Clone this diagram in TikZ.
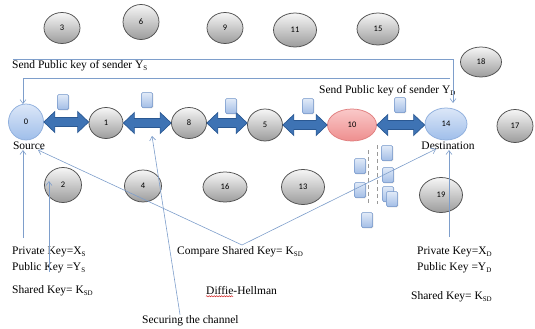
\documentclass[tikz,border=0pt]{standalone}
\usepackage{fontspec}
\setmainfont{Liberation Serif}
\newfontfamily\lblfont{Carlito}
\usetikzlibrary{arrows.meta,shapes.geometric,shadows,decorations.pathmorphing,calc}

\definecolor{grayTop}{HTML}{F6F6F6}
\definecolor{grayBot}{HTML}{9C9C9C}
\definecolor{grayEdge}{HTML}{505050}
\definecolor{blueTop}{HTML}{DCE7F8}
\definecolor{blueBot}{HTML}{9FBEEA}
\definecolor{blueEdge}{HTML}{8FAFDD}
\definecolor{pinkTop}{HTML}{FAC9C9}
\definecolor{pinkBot}{HTML}{EE8E8E}
\definecolor{pinkEdge}{HTML}{E07E7E}
\definecolor{arrFill}{HTML}{3E73B4}
\definecolor{arrEdge}{HTML}{2A5892}
\definecolor{pkTop}{HTML}{E1EAF8}
\definecolor{pkBot}{HTML}{A3BEE6}
\definecolor{pkEdge}{HTML}{6E92C8}
\definecolor{connClr}{HTML}{7E9ECB}

% lowered small subscript in the text font
\newcommand{\sbs}[1]{\raisebox{-0.3ex}{\fontsize{7}{8}\selectfont #1}}

% thick two-headed block arrow between two chain nodes
\newcommand{\blockarrow}[2]{%
  \filldraw[fill=arrFill, draw=arrEdge, line width=0.7pt, line join=miter]
    let \p1=(#1.east), \p2=(#2.west) in
    (\x1,\y1) -- (\x1+11pt,\y1+10.5pt) -- (\x1+11pt,\y1+4.5pt)
    -- (\x2-11pt,\y1+4.5pt) -- (\x2-11pt,\y1+10.5pt) -- (\x2,\y1)
    -- (\x2-11pt,\y1-10.5pt) -- (\x2-11pt,\y1-4.5pt)
    -- (\x1+11pt,\y1-4.5pt) -- (\x1+11pt,\y1-10.5pt) -- cycle;}

\begin{document}
\begin{tikzpicture}[x=1pt,y=-1pt,
  base/.style={ellipse, inner sep=0pt, line width=0.75pt,
    font=\lblfont\fontsize{8.5}{9}\selectfont},
  gnode/.style={base, draw=grayEdge, top color=grayTop, bottom color=grayBot},
  bnode/.style={base, draw=blueEdge, top color=blueTop, bottom color=blueBot},
  pnode/.style={base, draw=pinkEdge, top color=pinkTop, bottom color=pinkBot},
  sz/.style 2 args={minimum width=#1pt, minimum height=#2pt},
  packet/.style={rectangle, rounded corners=1.2pt, draw=pkEdge, line width=0.5pt,
    top color=pkTop, bottom color=pkBot, minimum width=11pt, minimum height=15pt,
    inner sep=0pt, drop shadow={shadow xshift=0.8pt, shadow yshift=-0.8pt, opacity=0.25}},
  txt/.style={inner sep=0pt, font=\fontsize{11.5}{13}\selectfont},
  conn/.style={draw=connClr, line width=0.6pt},
  tip/.style={-{Straight Barb[length=4pt,width=6pt]}},
  gapline/.style={draw=black!40, line width=0.6pt, dash pattern=on 4pt off 3pt}
]
\useasboundingbox (0,0) rectangle (535,329);

% scattered nodes, top row
\node[gnode, sz={36}{31}] (n3)  at (62,28)  {3};
\node[gnode, sz={36}{35}] (n6)  at (141,22) {6};
\node[gnode, sz={36}{31}] (n9)  at (225,28) {9};
\node[gnode, sz={43}{34}] (n11) at (295,30) {11};
\node[gnode, sz={42}{32}] (n15) at (378,29) {15};
\node[gnode, sz={41}{30}] (n18) at (481,62) {18};

% the chain from source to destination
\node[bnode, sz={35}{36}] (n0)  at (26,122)  {0};
\node[gnode, sz={34}{31}] (n1)  at (106,123) {1};
\node[gnode, sz={35}{31}] (n8)  at (189,123) {8};
\node[gnode, sz={35}{32}] (n5)  at (265,125) {5};
\node[pnode, sz={49}{32}] (n10) at (352,125) {10};
\node[bnode, sz={42}{32}] (n14) at (446,124) {14};
\node[gnode, sz={36}{33}] (n17) at (515,126) {17};

% scattered nodes, lower row
\node[gnode, sz={37}{35}] (n2)  at (63,185)  {2};
\node[gnode, sz={37}{32}] (n4)  at (143,186) {4};
\node[gnode, sz={44}{30}] (n16) at (225,187) {16};
\node[gnode, sz={43}{35}] (n13) at (303,187) {13};
\node[gnode, sz={43}{35}] (n19) at (441,195) {19};

% block arrows along the chain
\blockarrow{n0}{n1}
\blockarrow{n1}{n8}
\blockarrow{n8}{n5}
\blockarrow{n5}{n10}
\blockarrow{n10}{n14}

% packets above the links
\node[packet] (pk1) at (63,102)  {};
\node[packet] (pk2) at (147,100) {};
\node[packet] (pk3) at (231,106) {};
\node[packet] (pk4) at (308,106) {};
\node[packet] (pk5) at (400,105) {};

% dropped packets below node 10
\draw[gapline] (368,150) -- (368,204);
\draw[gapline] (377,145) -- (377,204);
\node[packet] (pk6)  at (387,153) {};
\node[packet] (pk7)  at (360,166) {};
\node[packet] (pk8)  at (388,175) {};
\node[packet] (pk9)  at (360,190) {};
\node[packet] (pk10) at (388,194) {};
\node[packet] (pk11) at (392,199) {};
\node[packet] (pk12) at (367,220) {};

% labels
\node[txt, anchor=west] (tYS) at (12,66) {Send Public key of sender Y\sbs{S}};
\node[txt, anchor=west] (tYD) at (319,91) {Send Public key of sender Y\sbs{D}};
\node[txt] (src) at (29,146) {Source};
\node[txt] (dst) at (448,146) {Destination};
\node[txt, anchor=west] (privS) at (12,252) {Private Key=X\sbs{S}};
\node[txt, anchor=west] (pubS)  at (12,268) {Public Key =Y\sbs{S}};
\node[txt, anchor=west] (shS)   at (12,291) {Shared Key= K\sbs{SD}};
\node[txt, anchor=west] (cmp)   at (177,252) {Compare Shared Key= K\sbs{SD}};
\node[txt, anchor=west] (dh)    at (206,291) {Diffie-Hellman};
\node[txt, anchor=west] (sec)   at (142,321) {Securing the channel};
\node[txt, anchor=west] (privD) at (417,252) {Private Key=X\sbs{D}};
\node[txt, anchor=west] (pubD)  at (417,268) {Public Key =Y\sbs{D}};
\node[txt, anchor=west] (shD)   at (411,297) {Shared Key= K\sbs{SD}};

% spell-check squiggle under "Diffie"
\draw[red!80!black, line width=0.4pt, decorate,
  decoration={snake, amplitude=0.6pt, segment length=2.5pt}]
  ($(dh.south west)+(0,1)$) -- ++(27,0);

% key exchange connectors
\coordinate (ysStart) at (13,59);
\coordinate (ysEnd)   at (453,103);
\draw[conn, tip] (ysStart) -| (ysEnd);
\coordinate (ydStart) at (450,78);
\coordinate (ydEnd)   at (23,104);
\draw[conn, tip] (ydStart) -| (ydEnd);

\coordinate (srcFoot) at (23,238);
\draw[conn, tip] (srcFoot) -- (src.south -| srcFoot);
\coordinate (pubFoot) at (49,272);
\coordinate (pubHead) at (49,181);
\draw[conn, tip] (pubFoot) -- (pubHead);

\coordinate (secTop) at (152,136);
\draw[conn, tip] ($(sec.north west)+(38,-1)$) -- (secTop);

\coordinate (cmpFoot) at (242,245);
\draw[conn, tip] (cmpFoot) -- (38,150);
\draw[conn, tip] (cmpFoot) -- (436,149);

\coordinate (dstFoot) at (449,237);
\draw[conn, tip] (dstFoot) -- (dst.south -| dstFoot);
\end{tikzpicture}
\end{document}
